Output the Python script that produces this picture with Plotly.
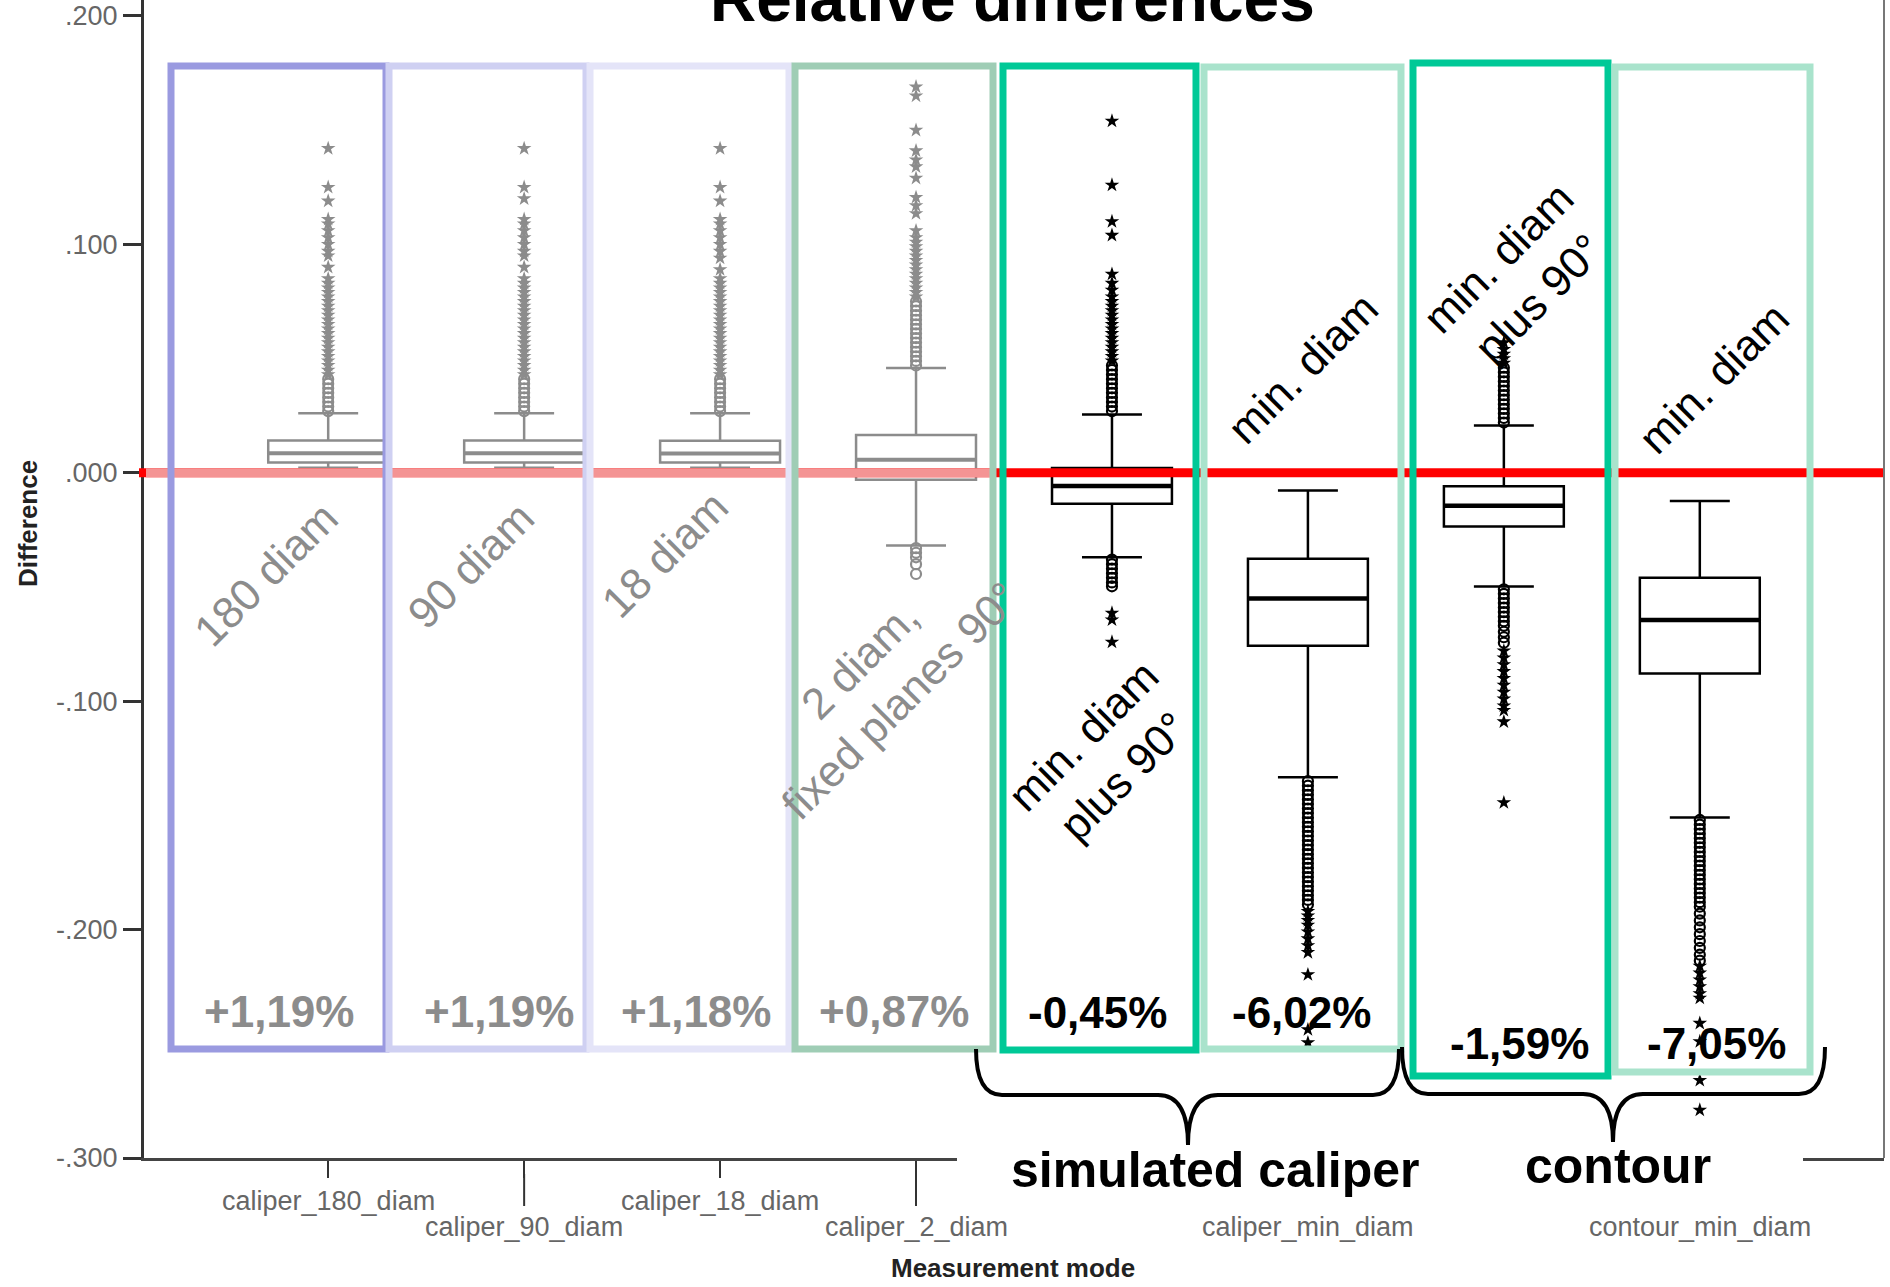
import plotly.graph_objects as go

# ---------------- data ----------------
categories = ["caliper_180_diam", "caliper_90_diam", "caliper_18_diam", "caliper_2_diam",
              "caliper_min_diam_plus90", "caliper_min_diam", "contour_min_diam_plus90", "contour_min_diam"]
tick_labels = ["caliper_180_diam", "caliper_90_diam", "caliper_18_diam", "caliper_2_diam",
               "", "caliper_min_diam", "", "contour_min_diam"]
tick_row = [1, 2, 1, 2, 1, 2, 1, 2]

q1 = [0.0045, 0.0045, 0.0045, -0.0031, -0.0136, -0.0757, -0.0235, -0.0879]
median = [0.0086, 0.0086, 0.0085, 0.0057, -0.0058, -0.0550, -0.0144, -0.0645]
q3 = [0.0141, 0.0141, 0.0140, 0.0166, 0.0021, -0.0376, -0.0059, -0.0460]
upper_whisker = [0.0261, 0.0261, 0.0261, 0.0459, 0.0255, -0.0077, 0.0207, -0.0123]
lower_whisker = [0.0022, 0.0022, 0.0022, -0.0318, -0.0370, -0.1333, -0.0498, -0.1509]

outliers_circle = [
    [0.027, 0.029, 0.031, 0.033, 0.035, 0.037, 0.039, 0.041],
    [0.027, 0.029, 0.031, 0.033, 0.035, 0.037, 0.039, 0.041],
    [0.027, 0.029, 0.031, 0.033, 0.035, 0.037, 0.039, 0.041],
    [0.047, 0.049, 0.051, 0.053, 0.055, 0.057, 0.059, 0.061, 0.063, 0.065, 0.067, 0.069, 0.071, 0.073, 0.075,
     -0.033, -0.035, -0.037, -0.040, -0.0443],
    [0.027, 0.029, 0.031, 0.033, 0.035, 0.037, 0.039, 0.041, 0.043, 0.045, 0.047,
     -0.038, -0.040, -0.042, -0.044, -0.046, -0.048, -0.0497],
    [-0.135, -0.137, -0.139, -0.141, -0.143, -0.145, -0.147, -0.149, -0.151, -0.153, -0.155, -0.157, -0.159,
     -0.161, -0.163, -0.165, -0.167, -0.169, -0.171, -0.173, -0.175, -0.177, -0.179, -0.181, -0.183, -0.185,
     -0.187, -0.189],
    [0.022, 0.024, 0.026, 0.028, 0.030, 0.032, 0.034, 0.036, 0.038, 0.040, 0.042, 0.044, 0.046,
     -0.051, -0.053, -0.055, -0.057, -0.059, -0.061, -0.063, -0.065, -0.067, -0.0696, -0.072, -0.0744],
    [-0.152, -0.154, -0.156, -0.158, -0.160, -0.162, -0.164, -0.166, -0.168, -0.170, -0.172, -0.174, -0.176,
     -0.178, -0.180, -0.182, -0.184, -0.186, -0.188, -0.190, -0.193, -0.196, -0.199, -0.202, -0.205, -0.208,
     -0.211, -0.2136],
]
outliers_star = [
    [0.043, 0.045, 0.047, 0.049, 0.051, 0.053, 0.055, 0.057, 0.059, 0.061, 0.063, 0.065, 0.067, 0.069, 0.071,
     0.073, 0.075, 0.077, 0.079, 0.081, 0.083, 0.085, 0.090, 0.095, 0.097, 0.100, 0.103, 0.106, 0.109, 0.111,
     0.119, 0.125, 0.142],
    [0.043, 0.045, 0.047, 0.049, 0.051, 0.053, 0.055, 0.057, 0.059, 0.061, 0.063, 0.065, 0.067, 0.069, 0.071,
     0.073, 0.075, 0.077, 0.079, 0.081, 0.083, 0.085, 0.090, 0.095, 0.097, 0.100, 0.103, 0.106, 0.109, 0.111,
     0.120, 0.125, 0.142],
    [0.043, 0.045, 0.047, 0.049, 0.051, 0.053, 0.055, 0.057, 0.059, 0.061, 0.063, 0.065, 0.067, 0.069, 0.071,
     0.073, 0.075, 0.077, 0.079, 0.081, 0.083, 0.085, 0.089, 0.094, 0.097, 0.100, 0.103, 0.106, 0.109, 0.111,
     0.119, 0.125, 0.142],
    [0.077, 0.079, 0.081, 0.083, 0.085, 0.087, 0.089, 0.091, 0.093, 0.095, 0.097, 0.099, 0.101, 0.103, 0.106,
     0.1135, 0.117, 0.1206, 0.129, 0.134, 0.137, 0.141, 0.150, 0.165, 0.169],
    [0.049, 0.051, 0.053, 0.055, 0.057, 0.059, 0.061, 0.063, 0.065, 0.067, 0.069, 0.071, 0.073, 0.075, 0.077,
     0.080, 0.083, 0.087, 0.104, 0.110, 0.126, 0.154,
     -0.0614, -0.0644, -0.0741],
    [-0.192, -0.194, -0.196, -0.198, -0.201, -0.204, -0.207, -0.210, -0.2197, -0.2438, -0.2495],
    [0.048, 0.050, 0.052, 0.054, 0.057,
     -0.078, -0.081, -0.084, -0.087, -0.090, -0.093, -0.096, -0.099, -0.102, -0.104, -0.109, -0.1444],
    [-0.216, -0.219, -0.222, -0.225, -0.228, -0.230, -0.241, -0.249, -0.266, -0.279],
]

mode_labels = ["180 diam", "90 diam", "18 diam", "2 diam,<br>fixed planes 90°",
               "min. diam<br>plus 90°", "min. diam", "min. diam<br>plus 90°", "min. diam"]
mean_diff_labels = ["+1,19%", "+1,19%", "+1,18%", "+0,87%", "-0,45%", "-6,02%", "-1,59%", "-7,05%"]
group_labels = ["simulated caliper", "contour"]
y_tickvals = [-0.3, -0.2, -0.1, 0.0, 0.1, 0.2]
y_ticktext = ["-.300", "-.200", "-.100", ".000", ".100", ".200"]

# ---------------- layout constants (screen pixels; body margin removed via post_script) ----------------
OFF = 0
W, H = 1890, 1287
ML, MR, MT, MB = 144, 6, 0, 129
PW = W - ML - MR
PH = H - MT - MB
X_RANGE = [-0.94, 7.94]
Y_RANGE = [-0.300, 0.207]
BOX_W = 0.612

FONT = "Liberation Sans, Arial, sans-serif"
GRAY = "#8c8c8c"
MUTED = [True, True, True, True, False, False, False, False]

FRAMES_PX = [(171, 386, 66, 1049), (389, 586, 66, 1049), (590, 789, 66, 1049), (795, 993, 66, 1049),
             (1003, 1196, 66, 1050), (1204, 1401, 67, 1049), (1413, 1608, 63, 1076), (1615, 1810, 67, 1072)]
FRAME_COLORS = ["#9a9ae0", "#cfd0f2", "#e4e4f8", "#9fcdb5", "#00c997", "#a9e3cc", "#00c997", "#a9e3cc"]
LABEL_POS = [(265, 574), (470, 565), (664, 554), (880, 680), (1103, 756), (1302, 368), (1518, 278), (1713, 378)]
PCT_POS = [(279, 1011), (499, 1011), (696, 1011), (894, 1011), (1097, 1012), (1301, 1012), (1519, 1043), (1716, 1043)]
GROUP_POS = [(1215, 1170), (1618, 1166)]
BRACES = [(976, 1399, 1188, 1049, 1095, 1145), (1402, 1825, 1613, 1047, 1094, 1142)]


def PX(px):
    return (px - OFF - ML) / PW


def PY(py):
    return (MT + PH - (py - OFF)) / PH


def data_to_paper_y(v):
    return (v - Y_RANGE[0]) / (Y_RANGE[1] - Y_RANGE[0])


fig = go.Figure()

for i in range(len(categories)):
    col = GRAY if MUTED[i] else "#000000"
    fig.add_trace(go.Box(
        x=[i], q1=[q1[i]], median=[median[i]], q3=[q3[i]],
        lowerfence=[lower_whisker[i]], upperfence=[upper_whisker[i]],
        width=BOX_W, whiskerwidth=0.5, fillcolor="white",
        line=dict(color=col, width=2.5), boxpoints=False, name=categories[i],
        showlegend=False, hoverinfo="skip"))
    fig.add_trace(go.Scatter(
        x=[i - BOX_W / 2, i + BOX_W / 2], y=[median[i], median[i]], mode="lines",
        line=dict(color=col, width=4.5 if not MUTED[i] else 4), showlegend=False, hoverinfo="skip"))
    fig.add_trace(go.Scatter(
        x=[i] * len(outliers_circle[i]), y=outliers_circle[i], mode="markers",
        marker=dict(symbol="circle-open", size=10, color=col, line=dict(width=2.2, color=col)),
        showlegend=False, hoverinfo="skip"))
    fig.add_trace(go.Scatter(
        x=[i] * len(outliers_star[i]), y=outliers_star[i], mode="markers",
        marker=dict(symbol="star", size=11, color=col, line=dict(width=0)),
        showlegend=False, hoverinfo="skip"))

shapes = []
# zero reference line (red, faded in the left part)
y0p = data_to_paper_y(0.0)
shapes.append(dict(type="line", xref="paper", yref="paper", x0=PX(139), x1=1.0, y0=y0p, y1=y0p,
                   line=dict(color="#ff0000", width=9), layer="above"))
shapes.append(dict(type="line", xref="paper", yref="paper", x0=PX(146), x1=PX(996), y0=y0p, y1=y0p,
                   line=dict(color="#f49494", width=9), layer="above"))
# frames
for (x0, x1, yt, yb), c in zip(FRAMES_PX, FRAME_COLORS):
    shapes.append(dict(type="rect", xref="paper", yref="paper", x0=PX(x0), x1=PX(x1), y0=PY(yb), y1=PY(yt),
                       line=dict(color=c, width=7), fillcolor="rgba(0,0,0,0)", layer="above"))
# right frame line
shapes.append(dict(type="line", xref="paper", yref="paper", x0=1, x1=1, y0=0, y1=1,
                   line=dict(color="#777777", width=2), layer="above"))
# long ticks for second-row labels
for i, r in enumerate(tick_row):
    if r == 2:
        xp = (i - X_RANGE[0]) / (X_RANGE[1] - X_RANGE[0])
        shapes.append(dict(type="line", xref="paper", yref="paper", x0=xp, x1=xp, y0=PY(1174), y1=PY(1206),
                           line=dict(color="#333333", width=2), layer="above"))
# white patch behind group labels
shapes.append(dict(type="rect", xref="paper", yref="paper", x0=PX(957), x1=PX(1803), y0=PY(1209), y1=PY(1122),
                   line=dict(width=0), fillcolor="white", layer="above"))
# curly braces
for (x0, x1, xc, yt, ym, ytip) in BRACES:
    r = 26
    rc = 30
    path = (f"M {PX(x0)},{PY(yt)} Q {PX(x0)},{PY(ym)} {PX(x0 + r)},{PY(ym)} "
            f"L {PX(xc - rc)},{PY(ym)} Q {PX(xc)},{PY(ym)} {PX(xc)},{PY(ytip)} "
            f"Q {PX(xc)},{PY(ym)} {PX(xc + rc)},{PY(ym)} "
            f"L {PX(x1 - r)},{PY(ym)} Q {PX(x1)},{PY(ym)} {PX(x1)},{PY(yt)}")
    shapes.append(dict(type="path", xref="paper", yref="paper", path=path,
                       line=dict(color="#000000", width=4), layer="above"))

annotations = []
# title (partly cut at the top, as in the source)
annotations.append(dict(text="<b>Relative differences</b>", xref="paper", yref="paper", x=PX(1012), y=1.0,
                        xanchor="center", yanchor="bottom", yshift=-37, showarrow=False,
                        font=dict(family=FONT, size=64, color="#000000")))
# rotated mode labels
for i, (lx, ly) in enumerate(LABEL_POS):
    annotations.append(dict(text=mode_labels[i], xref="paper", yref="paper", x=PX(lx), y=PY(ly),
                            xanchor="center", yanchor="middle", textangle=-45, showarrow=False, align="center",
                            font=dict(family=FONT, size=44, color=GRAY if MUTED[i] else "#000000")))
# percentages
for i, (lx, ly) in enumerate(PCT_POS):
    annotations.append(dict(text="<b>" + mean_diff_labels[i] + "</b>", xref="paper", yref="paper",
                            x=PX(lx), y=PY(ly), xanchor="center", yanchor="middle", showarrow=False,
                            font=dict(family=FONT, size=44, color=GRAY if MUTED[i] else "#000000")))
# group labels
for g, (lx, ly) in zip(group_labels, GROUP_POS):
    annotations.append(dict(text="<b>" + g + "</b>", xref="paper", yref="paper", x=PX(lx), y=PY(ly),
                            xanchor="center", yanchor="middle", showarrow=False,
                            font=dict(family=FONT, size=50, color="#000000")))
# staggered category labels
for i, t in enumerate(tick_labels):
    if t:
        annotations.append(dict(text=t, xref="x", yref="paper", x=i,
                                y=PY(1201 if tick_row[i] == 1 else 1227),
                                xanchor="center", yanchor="middle", showarrow=False,
                                font=dict(family=FONT, size=27, color="#666666")))
# axis titles
annotations.append(dict(text="<b>Measurement mode</b>", xref="paper", yref="paper", x=PX(1013), y=PY(1268),
                        xanchor="center", yanchor="middle", showarrow=False,
                        font=dict(family=FONT, size=26, color="#222222")))
annotations.append(dict(text="<b>Difference</b>", xref="paper", yref="paper", x=PX(28), y=PY(524),
                        xanchor="center", yanchor="middle", textangle=-90, showarrow=False,
                        font=dict(family=FONT, size=26, color="#222222")))

fig.update_layout(
    width=W, height=H,
    margin=dict(l=ML, r=MR, t=MT, b=MB, pad=0, autoexpand=False),
    paper_bgcolor="white", plot_bgcolor="white",
    showlegend=False,
    shapes=shapes, annotations=annotations,
    xaxis=dict(range=X_RANGE, tickmode="array", tickvals=list(range(len(categories))), showticklabels=False,
               ticks="outside", ticklen=17, tickwidth=2, tickcolor="#333333", automargin=False,
               showline=True, linecolor="#444444", linewidth=2.5, showgrid=False, zeroline=False),
    yaxis=dict(range=Y_RANGE, tickmode="array", tickvals=y_tickvals, ticktext=y_ticktext,
               ticks="outside", ticklen=18, tickwidth=2.5, tickcolor="#333333", ticklabeloverflow="allow",
               automargin=False,
               tickfont=dict(family=FONT, size=27, color="#666666"),
               showline=True, linecolor="#333333", linewidth=3, showgrid=False, zeroline=False),
)

fig.write_html("out.html", config={"displayModeBar": False},
               post_script="document.body.style.margin='0';document.body.style.overflow='hidden';")
